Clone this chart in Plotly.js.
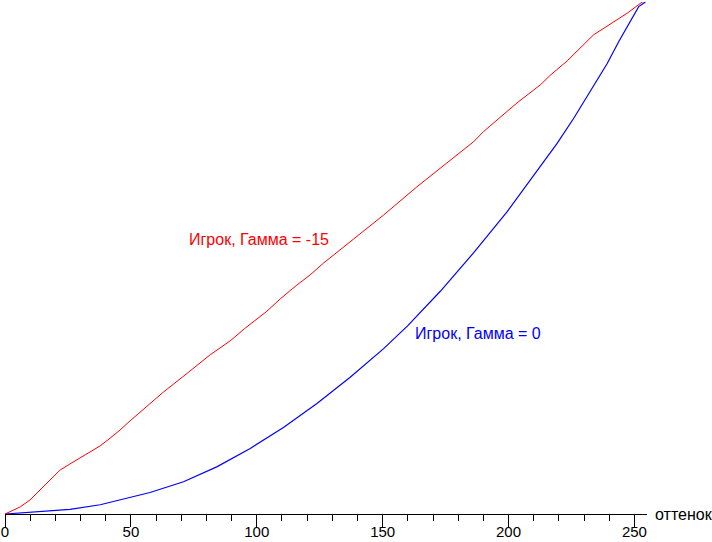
<!DOCTYPE html>
<html>
<head>
<meta charset="utf-8">
<script src="https://cdn.plot.ly/plotly-3.0.1.min.js"></script>
<style>html,body{margin:0;padding:0;background:#fff;}#chart{width:712px;height:542px;}</style>
</head>
<body>
<div id="chart"></div>
<script>
// Red curve: "Игрок, Гамма = -15"
const redX = [0,2,6,9.9,13.9,17.9,21.9,25.8,29.8,33.8,37.8,41.7,45.7,49.7,62.9,72.9,81.5,89.4,95.4,104,109.3,115.9,121.2,126.5,132.5,137.1,150.4,163.6,172.9,176.9,186.1,190.1,199.4,203.4,212.6,216.6,223.3,233.8,247.1,253.1,255];
const redY = [0,0.45,1.37,2.73,4.69,6.64,8.59,9.77,11.0,12.1,13.3,14.8,16.4,18.2,23.8,27.7,31.1,33.8,36.3,39.6,42.0,44.7,46.7,49.0,51.4,53.2,58.4,63.9,67.5,69.1,72.7,74.7,78.6,80.3,83.8,85.7,88.5,93.6,97.8,100.0,100.2];
// Blue curve: "Игрок, Гамма = 0"
const blueX = [0,12,25.8,37.8,57.6,70.9,84.1,97.4,110.6,123.9,137.1,150.4,160,172.9,186.1,199.4,211.3,219.3,225.9,232.5,239.2,243.8,251.7,254.4];
const blueY = [0,0.4,0.9,1.8,4.2,6.3,9.2,12.8,16.9,21.6,26.7,32.3,36.8,43.5,51.0,59.0,67.0,72.4,77.3,82.5,88.0,92.3,99.1,100.0];
const labels = ["Игрок, Гамма = -15", "Игрок, Гамма = 0"];
const xTitle = "оттенок";
const tickVals = [0,50,100,150,200,250];

const font = "Liberation Sans, Arial, sans-serif";
const traces = [
  {x: blueX, y: blueY, mode: "lines", line: {color: "#0000ff", width: 1.2}, cliponaxis: false, hoverinfo: "skip"},
  {x: redX, y: redY, mode: "lines", line: {color: "#ff0000", width: 1}, cliponaxis: false, hoverinfo: "skip"}
];
const layout = {
  width: 712, height: 542,
  margin: {l: 5, r: 65.4, t: 2, b: 28},
  paper_bgcolor: "#fff", plot_bgcolor: "#fff",
  showlegend: false,
  font: {family: font, size: 16, color: "#000"},
  xaxis: {
    range: [0, 255], showgrid: false, zeroline: false,
    showline: true, linecolor: "#000", linewidth: 1,
    tickmode: "array", tickvals: tickVals, ticktext: tickVals.map(String),
    ticks: "outside", ticklen: 12, tickwidth: 1, tickcolor: "#000",
    ticklabelstandoff: -8,
    tickfont: {family: font, size: 15, color: "#000"},
    minor: {dtick: 10, tick0: 0, ticks: "outside", ticklen: 6, tickwidth: 1, tickcolor: "#000", showgrid: false}
  },
  yaxis: {range: [0, 100], visible: false, showgrid: false, zeroline: false},
  annotations: [
    {x: 72.3, y: 53.7, xref: "x", yref: "y", text: labels[0], showarrow: false, xanchor: "left", yanchor: "middle", font: {family: font, size: 16, color: "#ff0000"}},
    {x: 162.2, y: 35.2, xref: "x", yref: "y", text: labels[1], showarrow: false, xanchor: "left", yanchor: "middle", font: {family: font, size: 16, color: "#0000ff"}},
    {x: 255, y: 0, xref: "x", yref: "y", text: xTitle, showarrow: false, xanchor: "left", yanchor: "middle", xshift: 6, font: {family: font, size: 16, color: "#000"}}
  ]
};
Plotly.newPlot("chart", traces, layout, {staticPlot: true, displayModeBar: false});
</script>
</body>
</html>
